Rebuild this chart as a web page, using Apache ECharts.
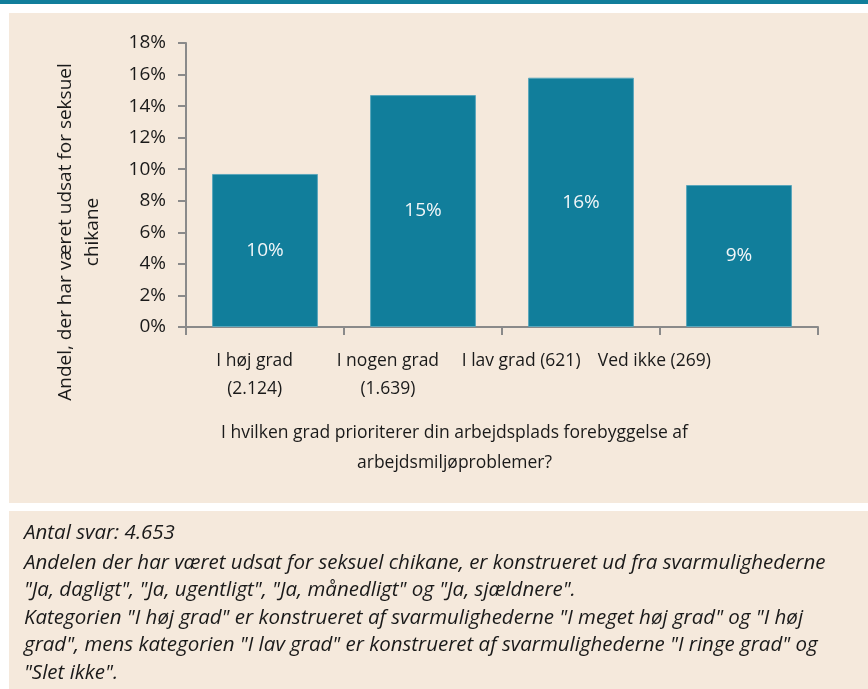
<!DOCTYPE html>
<html>
<head>
<meta charset="utf-8">
<script src="https://cdn.jsdelivr.net/npm/echarts@6/dist/echarts.min.js"></script>
<style>
  html, body { margin: 0; padding: 0; background: #ffffff; }
  #chart { width: 868px; height: 689px; }
</style>
</head>
<body>
<div id="chart"></div>
<script>
// data
var categories = ["I høj grad\n(2.124)", "I nogen grad\n(1.639)", "I lav grad (621)", "Ved ikke (269)"];
var shares = [9.7, 14.7, 15.8, 9.0];   // percent
var yTicks = { min: 0, max: 18, interval: 2 };

var yTitle = "Andel, der har været udsat for seksuel\nchikane";
var xTitle = "I hvilken grad prioriterer din arbejdsplads forebyggelse af\narbejdsmiljøproblemer?";
var noteHead = "Antal svar: 4.653";
var noteLines = [
  "Andelen der har været udsat for seksuel chikane, er konstrueret ud fra svarmulighederne",
  "\"Ja, dagligt\", \"Ja, ugentligt\", \"Ja, månedligt\" og \"Ja, sjældnere\".",
  "Kategorien \"I høj grad\" er konstrueret af svarmulighederne \"I meget høj grad\" og \"I høj",
  "grad\", mens kategorien \"I lav grad\" er konstrueret af svarmulighederne \"I ringe grad\" og",
  "\"Slet ikke\"."
];

var teal = "#117e9b";
var beige = "#f5e9dc";
var axisGrey = "#8a8a8a";
var font = "'Open Sans', 'Noto Sans', sans-serif";

var chart = echarts.init(document.getElementById("chart"));
var options = {
  backgroundColor: "#ffffff",
  textStyle: { fontFamily: font },
  animation: false,
  graphic: [
    { type: "rect", z: -10, shape: { x: 0, y: 0, width: 868, height: 4 }, style: { fill: teal } },
    { type: "rect", z: -10, shape: { x: 9, y: 13, width: 859, height: 490 }, style: { fill: beige } },
    { type: "rect", z: -10, shape: { x: 9, y: 511, width: 859, height: 178 }, style: { fill: beige } },
    {
      type: "text", x: 79, y: 232, rotation: Math.PI / 2,
      style: {
        text: yTitle, fontFamily: font, fontSize: 19, lineHeight: 27,
        fill: "#1a1a1a", align: "center", verticalAlign: "middle"
      }
    },
    {
      type: "text", left: 24, top: 519,
      style: { text: noteHead, fontFamily: font, fontStyle: "italic", fontSize: 20.5, lineHeight: 28, fill: "#1a1a1a" }
    },
    {
      type: "text", left: 24, top: 549,
      style: { text: noteLines.join("\n"), fontFamily: font, fontStyle: "italic", fontSize: 20.5, lineHeight: 27.5, fill: "#1a1a1a" }
    }
  ],
  grid: [
    { left: 186, right: 50, top: 43, bottom: 362 },
    { left: 188, right: 147, top: 43, bottom: 362 }
  ],
  xAxis: [
    {
      type: "category", gridIndex: 0, data: categories,
      axisLine: { lineStyle: { color: axisGrey, width: 2 } },
      axisTick: { show: true, length: 8, lineStyle: { color: axisGrey, width: 2 } },
      axisLabel: { show: false }
    },
    {
      type: "category", gridIndex: 1, data: categories,
      axisLine: { show: false }, axisTick: { show: false },
      axisLabel: { fontSize: 17.5, lineHeight: 28, margin: 20, color: "#1a1a1a", interval: 0 },
      name: xTitle, nameLocation: "middle", nameGap: 91,
      nameTextStyle: { fontSize: 17.5, lineHeight: 30, color: "#1a1a1a" }
    }
  ],
  yAxis: [
    {
      type: "value", gridIndex: 0,
      min: yTicks.min, max: yTicks.max, interval: yTicks.interval,
      axisLine: { show: true, lineStyle: { color: axisGrey, width: 2 } },
      axisTick: { show: true, length: 8, lineStyle: { color: axisGrey, width: 2 } },
      splitLine: { show: false },
      axisLabel: { formatter: "{value}%", fontSize: 19, margin: 20, color: "#1a1a1a" }
    },
    { type: "value", gridIndex: 1, show: false, min: yTicks.min, max: yTicks.max }
  ],
  series: [
    {
      type: "bar", xAxisIndex: 0, yAxisIndex: 0,
      data: shares, barCategoryGap: "33%",
      itemStyle: { color: teal, borderColor: "#5aa6bb", borderWidth: 1 },
      label: {
        show: true, position: "inside", fontSize: 19, color: "#f2f6f8",
        formatter: function (p) { return Math.round(p.value) + "%"; }
      }
    }
  ]
};
chart.setOption(options);
</script>
</body>
</html>
